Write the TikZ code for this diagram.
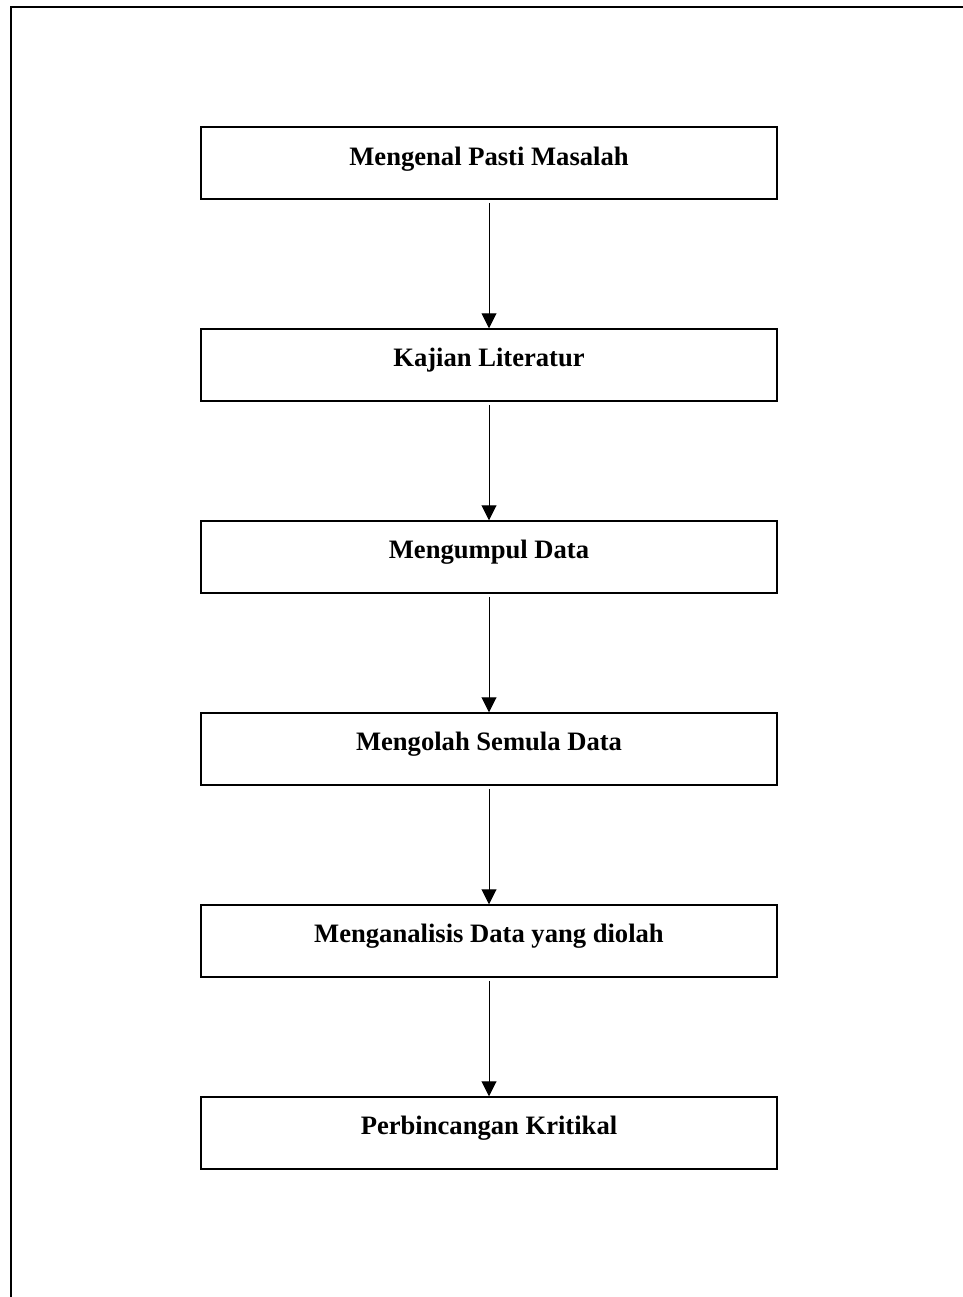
\documentclass[tikz,border=0pt]{standalone}
\usepackage{fontspec}
\setmainfont{Liberation Serif}
\usetikzlibrary{arrows.meta}
\begin{document}
\begin{tikzpicture}[x=1bp,y=-1bp,
 stepbox/.style={draw, line width=1.5bp, minimum width=576bp, minimum height=72bp, inner sep=0pt},
 lbl/.style={font=\fontsize{26.7}{30}\selectfont\bfseries, anchor=base, inner sep=0pt},
 flow/.style={line width=1bp, -{Triangle[width=15bp,length=15bp]}}]
\useasboundingbox (0,0) rectangle (963,1297);
\draw[line width=1.5bp] (963,7) -- (11,7) -- (11,1297);
\node[stepbox] (b1) at (489,163) {};
\node[stepbox] (b2) at (489,365) {};
\node[stepbox] (b3) at (489,557) {};
\node[stepbox] (b4) at (489,749) {};
\node[stepbox] (b5) at (489,941) {};
\node[stepbox] (b6) at (489,1133) {};
\node[lbl] (t1) at (489,165) {Mengenal Pasti Masalah};
\node[lbl] (t2) at (489,366) {Kajian Literatur};
\node[lbl] (t3) at (489,558) {Mengumpul Data};
\node[lbl] (t4) at (489,750) {Mengolah Semula Data};
\node[lbl] (t5) at (489,942) {Menganalisis Data yang diolah};
\node[lbl] (t6) at (489,1134) {Perbincangan Kritikal};
\draw[flow] ([yshift=-3bp]b1.south) -- (b2.north);
\draw[flow] ([yshift=-3bp]b2.south) -- (b3.north);
\draw[flow] ([yshift=-3bp]b3.south) -- (b4.north);
\draw[flow] ([yshift=-3bp]b4.south) -- (b5.north);
\draw[flow] ([yshift=-3bp]b5.south) -- (b6.north);
\end{tikzpicture}
\end{document}
